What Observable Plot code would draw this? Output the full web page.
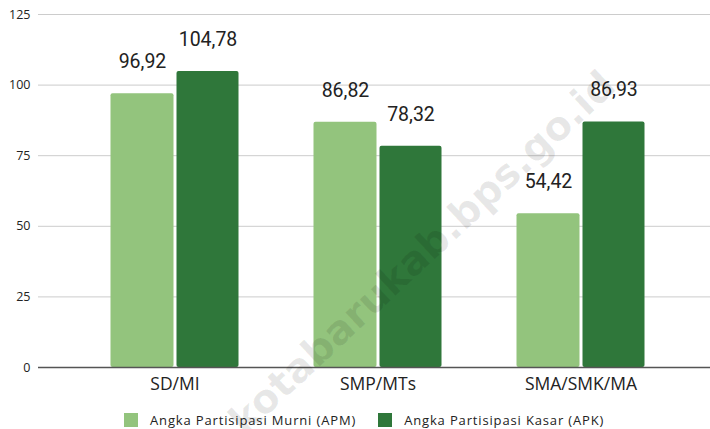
<!DOCTYPE html>
<html>
<head>
<meta charset="utf-8">
<script src="https://cdn.jsdelivr.net/npm/d3@7"></script>
<script src="https://cdn.jsdelivr.net/npm/@observablehq/plot@0.6"></script>
<style>
  body { margin: 0; background: #fff; overflow: hidden; }
  #chart svg { overflow: visible; }
  .legend { display: flex; align-items: center; padding: 11px 0 0 124px; font-family: "Open Sans", sans-serif; font-size: 13px; letter-spacing: 0.85px; color: #222; }
  .legend .item { display: flex; align-items: center; margin-right: 22px; }
  .legend .sw { width: 14px; height: 14px; margin-right: 12px; }
</style>
</head>
<body>
<div id="chart"></div>
<script>
const categories = ["SD/MI", "SMP/MTs", "SMA/SMK/MA"];
const series = ["Angka Partisipasi Murni (APM)", "Angka Partisipasi Kasar (APK)"];
const apm = [96.92, 86.82, 54.42];
const apk = [104.78, 78.32, 86.93];
const yTicks = [0, 25, 50, 75, 100, 125];
const colors = ["#93c47d", "#2f773a"];
const watermark = "kotabarukab.bps.go.id";

const fmt = v => v.toFixed(2).replace(".", ",");
const dataAPM = categories.map((c, i) => ({cat: c, value: apm[i], label: fmt(apm[i])}));
const dataAPK = categories.map((c, i) => ({cat: c, value: apk[i], label: fmt(apk[i])}));

const chart = Plot.plot({
  width: 710,
  height: 400,
  marginTop: 14,
  marginBottom: 33,
  marginLeft: 38,
  marginRight: 0,
  style: {background: "transparent"},
  x: {domain: categories, range: [72.5, 681.5], padding: 0, label: null, tickSize: 0, tickPadding: 8},
  y: {domain: [0, 125], ticks: yTicks, label: null, tickSize: 0, tickPadding: 8},
  marks: [
    Plot.ruleY(yTicks.filter(t => t > 0), {stroke: "#cccccc", strokeWidth: 1}),
    Plot.barY(dataAPM, {x: "cat", y: "value", fill: colors[0], insetLeft: 37.5, insetRight: 102.5, rx: 2}),
    Plot.barY(dataAPK, {x: "cat", y: "value", fill: colors[1], insetLeft: 103.5, insetRight: 37.5, rx: 2}),
    Plot.ruleY([0], {stroke: "#555", strokeWidth: 1.3}),
    Plot.text(dataAPM, {x: "cat", y: "value", text: "label", dx: -32.5, dy: -32, fontSize: 19.5, fill: "#222", fontFamily: "Roboto"}),
    Plot.text(dataAPK, {x: "cat", y: "value", text: "label", dx: 33, dy: -32, fontSize: 19.5, fill: "#222", fontFamily: "Roboto"}),
    Plot.axisY({ticks: yTicks, tickSize: 0, tickPadding: 8, fontSize: 12.5, fontFamily: "Open Sans", fill: "#222", label: null}),
    Plot.axisX({tickSize: 0, tickPadding: 10, fontSize: 17.5, fontFamily: "Open Sans", fill: "#222", label: null}),
    Plot.text([watermark], {frameAnchor: "middle", text: d => d, dx: 48, dy: 62, rotate: -43, fontSize: 40, fontWeight: "bold", fontFamily: "DejaVu Sans", fill: "#000", fillOpacity: 0.09})
  ]
});
document.getElementById("chart").appendChild(chart);

const legend = document.createElement("div");
legend.className = "legend";
series.forEach((s, i) => {
  const item = document.createElement("div");
  item.className = "item";
  const sw = document.createElement("span");
  sw.className = "sw";
  sw.style.background = colors[i];
  const t = document.createElement("span");
  t.textContent = s;
  item.appendChild(sw);
  item.appendChild(t);
  legend.appendChild(item);
});
document.body.appendChild(legend);
</script>
</body>
</html>
